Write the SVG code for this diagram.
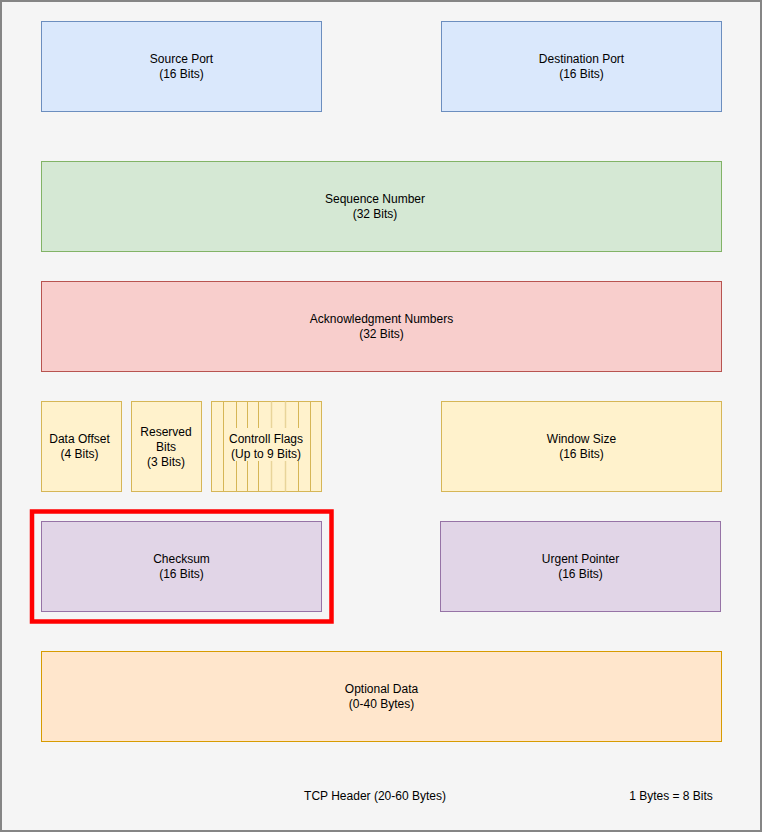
<svg xmlns="http://www.w3.org/2000/svg" width="762" height="832" viewBox="0 0 762 832">
<style>
text{font-family:"Liberation Sans",Arial,Helvetica,sans-serif;font-size:12px;fill:#000;text-anchor:middle}
.b{fill:#dae8fc;stroke:#6c8ebf;stroke-width:1}
.g{fill:#d5e8d4;stroke:#82b366;stroke-width:1}
.r{fill:#f8cecc;stroke:#b85450;stroke-width:1}
.y{fill:#fff2cc;stroke:#d6b656;stroke-width:1}
.p{fill:#e1d5e7;stroke:#9673a6;stroke-width:1}
.o{fill:#ffe6cc;stroke:#d79b00;stroke-width:1}
.fl{stroke:#d6b656;stroke-width:1}
.fl2{stroke:#e8d49a;stroke-width:1.5}
</style>
<rect x="1" y="1" width="760" height="830" fill="#f5f5f5" stroke="#858585" stroke-width="2"/>
<g id="source-port"><rect class="b" x="41.5" y="21.5" width="280" height="90"/><text x="181.5" y="63">Source Port</text><text x="181.5" y="78">(16 Bits)</text></g>
<g id="destination-port"><rect class="b" x="441.5" y="21.5" width="280" height="90"/><text x="581.5" y="63">Destination Port</text><text x="581.5" y="78">(16 Bits)</text></g>
<g id="sequence-number"><rect class="g" x="41.5" y="161.5" width="680" height="90"/><text x="375" y="203">Sequence Number</text><text x="375" y="218">(32 Bits)</text></g>
<g id="ack-numbers"><rect class="r" x="41.5" y="281.5" width="680" height="90"/><text x="381.5" y="323">Acknowledgment Numbers</text><text x="381.5" y="338">(32 Bits)</text></g>
<g id="data-offset"><rect class="y" x="41.5" y="401.5" width="80" height="90"/><text x="79.5" y="443">Data Offset</text><text x="79.5" y="458">(4 Bits)</text></g>
<g id="reserved-bits"><rect class="y" x="131.5" y="401.5" width="70" height="90"/><text x="166" y="436">Reserved</text><text x="166" y="451">Bits</text><text x="166" y="466">(3 Bits)</text></g>
<g id="control-flags"><rect class="y" x="211.5" y="401.5" width="110" height="90"/>
<line class="fl" x1="223.5" y1="401.5" x2="223.5" y2="491.5"/>
<line class="fl" x1="236.5" y1="401.5" x2="236.5" y2="491.5"/>
<line class="fl" x1="247.5" y1="401.5" x2="247.5" y2="491.5"/>
<line class="fl" x1="258.5" y1="401.5" x2="258.5" y2="491.5"/>
<line class="fl2" x1="271.5" y1="401.5" x2="271.5" y2="491.5"/>
<line class="fl2" x1="285.5" y1="401.5" x2="285.5" y2="491.5"/>
<line class="fl" x1="298.5" y1="401.5" x2="298.5" y2="491.5"/>
<line class="fl" x1="310.5" y1="401.5" x2="310.5" y2="491.5"/>
<rect x="227" y="428" width="79" height="33" fill="#fff2cc"/>
<text x="266" y="443">Controll Flags</text><text x="266" y="458">(Up to 9 Bits)</text></g>
<g id="window-size"><rect class="y" x="441.5" y="401.5" width="280" height="90"/><text x="581.5" y="443">Window Size</text><text x="581.5" y="458">(16 Bits)</text></g>
<g id="checksum"><rect class="p" x="41.5" y="521.5" width="280" height="90"/><text x="181.5" y="563">Checksum</text><text x="181.5" y="578">(16 Bits)</text>
<rect x="32" y="511.5" width="299.5" height="110" fill="none" stroke="#ff0000" stroke-width="4.5"/></g>
<g id="urgent-pointer"><rect class="p" x="440.5" y="521.5" width="280" height="90"/><text x="580.5" y="563">Urgent Pointer</text><text x="580.5" y="578">(16 Bits)</text></g>
<g id="optional-data"><rect class="o" x="41.5" y="651.5" width="680" height="90"/><text x="381.5" y="693">Optional Data</text><text x="381.5" y="708">(0-40 Bytes)</text></g>
<g id="labels"><text x="375" y="800">TCP Header (20-60 Bytes)</text><text x="671" y="800">1 Bytes = 8 Bits</text></g>
<g id="connectors"/>
</svg>
